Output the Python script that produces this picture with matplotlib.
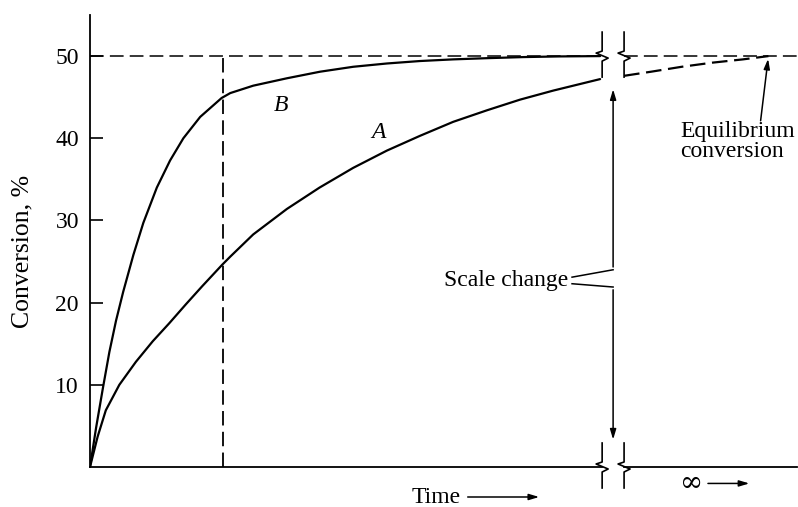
import numpy as np
import matplotlib.pyplot as plt

plt.rcParams['font.family'] = ['Liberation Serif', 'DejaVu Serif']

# ── Data (time in arbitrary units, conversion in %) ─────
t_a    = [0, 0.15, 0.31, 0.575, 0.9, 1.23, 1.555, 1.88, 2.2, 2.59, 2.75, 3.2,
          3.86, 4.5, 5.16, 5.82, 6.47, 7.12, 7.78, 8.43, 9.08, 10.0]
conv_a = [0, 3.7, 6.9, 10.0, 12.8, 15.3, 17.5, 19.8, 22.0, 24.6, 25.6, 28.3,
          31.4, 34.0, 36.4, 38.5, 40.3, 42.0, 43.4, 44.7, 45.8, 47.2]

t_b    = [0, 0.12, 0.25, 0.38, 0.51, 0.65, 0.85, 1.045, 1.31, 1.57, 1.83, 2.16,
          2.58, 2.75, 3.2, 3.86, 4.51, 5.16, 5.82, 6.47, 7.12, 7.8, 8.5, 9.2, 10.0]
conv_b = [0, 4.8, 9.5, 14.0, 17.8, 21.3, 25.8, 29.7, 34.0, 37.3, 40.0, 42.6,
          44.9, 45.5, 46.4, 47.3, 48.1, 48.7, 49.1, 49.4, 49.6, 49.75, 49.88, 49.96, 50.0]

# after the scale change
t_a_tail    = [10.47, 11.0, 11.6, 12.2, 12.8, 13.3]
conv_a_tail = [47.6, 48.1, 48.7, 49.2, 49.6, 50.0]

equilibrium = 50
t_marker = 2.6              # dashed vertical
break_t = [10.04, 10.47]    # scale change
t_end = 13.86
y_ticks = [10, 20, 30, 40, 50]

FS = 17
LW = 1.6

# ── Figure ──────────────────────────────────────────────
fig = plt.figure(figsize=(7.98, 5.07), dpi=100)
ax = fig.add_axes([90 / 798, 40 / 507, 707 / 798, 452 / 507])
ax.set_xlim(0, t_end)
ax.set_ylim(0, 55)

for s in ["top", "right", "bottom"]:
    ax.spines[s].set_visible(False)
ax.spines["left"].set_linewidth(1.3)
ax.set_xticks([])
ax.set_yticks(y_ticks)
ax.tick_params(axis="y", direction="in", length=9, width=1.2, pad=8, labelsize=FS)

ax.set_ylabel("Conversion, %", fontsize=FS + 1.5)
ax.yaxis.set_label_coords(-0.08, 0.476)

# curves
line = dict(color="black", lw=LW, solid_joinstyle="round", solid_capstyle="round")
ax.plot(t_a, conv_a, **line)
ax.plot(t_b, conv_b, **line)
ax.plot(t_a_tail, conv_a_tail, color="black", lw=LW, dashes=(7, 3))

# equilibrium line and time marker
dash = dict(color="black", lw=1.1, dashes=(9, 4))
ax.plot([0, break_t[0]], [equilibrium, equilibrium], **dash)
ax.plot([break_t[1], t_end], [equilibrium, equilibrium], **dash)
ax.plot([t_marker, t_marker], [0, equilibrium], color="black", lw=1.3, dashes=(8, 3.5))

# time axis with gap at scale change
ax.plot([0, break_t[0]], [0, 0], color="black", lw=1.3, clip_on=False)
ax.plot([break_t[1], t_end], [0, 0], color="black", lw=1.3, clip_on=False)

# break symbols
px_x = 707 / t_end
px_y = 452 / 55
zig_x = np.array([0, 0, -6, 6, 0, 0]) / px_x
zig_y = np.array([24, 5, 3, -2, -5, -21]) / px_y
for tb in break_t:
    for level in [0, equilibrium]:
        ax.plot(tb + zig_x, level + zig_y, color="black", lw=1.2, clip_on=False)

# curve labels
ax.text(3.75, 44.0, "B", fontsize=FS, style="italic", ha="center", va="center")
ax.text(5.65, 40.7, "A", fontsize=FS, style="italic", ha="center", va="center")

# scale change annotation
t_sc = np.mean(break_t)
ax.text(9.37, 22.7, "Scale change", fontsize=FS, ha="right", va="center")
ax.plot([9.45, t_sc], [23.1, 24.0], color="black", lw=1.1)
ax.plot([9.45, t_sc], [22.3, 21.9], color="black", lw=1.1)
arrow = dict(arrowstyle="-|>,head_length=0.6,head_width=0.18", color="black", lw=1.1)
ax.annotate("", xy=(t_sc, 46.3), xytext=(t_sc, 24.0), arrowprops=arrow)
ax.annotate("", xy=(t_sc, 3.0), xytext=(t_sc, 21.9), arrowprops=arrow)

# equilibrium annotation
ax.text(11.57, 39.6, "Equilibrium\nconversion", fontsize=FS, ha="left", va="center",
        linespacing=0.9)
ax.annotate("", xy=(13.3, equilibrium), xytext=(13.14, 41.8), arrowprops=arrow)

# axis captions
ax.text(6.78, -3.75, "Time", fontsize=FS, ha="center", va="center", clip_on=False)
ax.annotate("", xy=(8.86, -3.65), xytext=(7.35, -3.65), arrowprops=arrow,
            annotation_clip=False)
ax.text(11.8, -1.95, "∞", fontsize=FS + 3, ha="center", va="center", clip_on=False,
        family=["DejaVu Serif"])
ax.annotate("", xy=(12.98, -2.0), xytext=(12.06, -2.0), arrowprops=arrow,
            annotation_clip=False)

fig.savefig("out.png", dpi=100)
